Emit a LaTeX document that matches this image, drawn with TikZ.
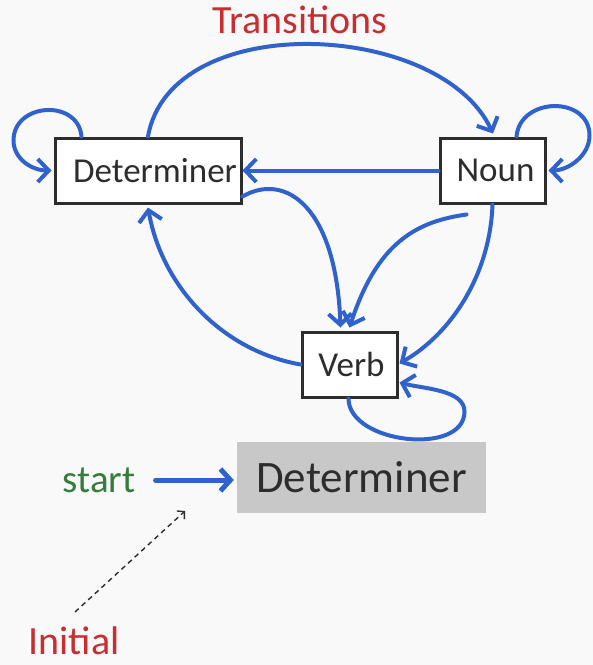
\documentclass[tikz,border=0pt]{standalone}
\usepackage{fontspec}
\setmainfont{Carlito}
\usetikzlibrary{arrows.meta,calc}

\definecolor{edgeblue}{RGB}{47,98,205}
\definecolor{titlered}{RGB}{200,45,50}
\definecolor{startgreen}{RGB}{52,125,58}
\definecolor{boxline}{RGB}{45,45,45}
\definecolor{initfill}{RGB}{200,200,200}
\definecolor{paper}{RGB}{249,249,249}

\tikzset{
  state/.style={draw=boxline, line width=3pt, fill=white, rectangle,
    minimum height=65pt, inner sep=0pt, text=boxline,
    font=\fontsize{35}{40}\selectfont},
  trans/.style={draw=edgeblue, line width=4pt, line cap=round,
    -{Straight Barb[length=11pt,width=23pt,line width=4pt]}},
  loopedge/.style={trans},
  redlabel/.style={text=titlered, font=\fontsize{40}{46}\selectfont, inner sep=0pt},
}

\begin{document}
\begin{tikzpicture}[x=1pt,y=1pt]
  % canvas
  \fill[paper] (0,0) rectangle (593,-665);
  \useasboundingbox (0,0) rectangle (593,-665);

  % title
  \node[redlabel, anchor=base] (title) at (300,-33) {Transitions};

  % states
  \node[state, minimum width=186pt] (det) at (148,-170.5) {\hspace*{14pt}Determiner};
  \node[state, minimum width=105pt] (noun) at (492.5,-170.5) {\hspace*{6pt}Noun};
  \node[state, minimum width=95pt] (verb) at (349.5,-364.5) {\hspace*{4pt}Verb};

  % initial state
  \node[fill=initfill, minimum width=249pt, minimum height=71pt, inner sep=0pt,
        text=boxline, font=\fontsize{45}{52}\selectfont] (init) at (361.5,-477.5) {Determiner};
  \node[anchor=base, text=startgreen, font=\fontsize{39}{45}\selectfont, inner sep=0pt]
        (start) at (99,-492) {start};
  \node[redlabel, anchor=base] (initial) at (74,-654) {Initial};

  % self loops
  \draw[loopedge] ([xshift=28pt]det.north west)
      to[out=95,in=90,out distance=38pt,in distance=38pt] ($(det.west)+(-40,30)$)
      to[out=-90,in=180,out distance=18pt,in distance=20pt] ([xshift=-2pt]det.west);
  \draw[loopedge] ([xshift=78pt]noun.north west)
      to[out=85,in=90,out distance=40pt,in distance=40pt] ($(noun.east)+(43,35)$)
      to[out=-90,in=0,out distance=20pt,in distance=20pt] ([xshift=2pt]noun.east);
  \draw[loopedge] ([xshift=-1pt]verb.south)
      to[out=-90,in=-90,out distance=45pt,in distance=45pt] ($(verb.south east)+(66,-13)$)
      to[out=90,in=-15,out distance=22pt,in distance=24pt] ([xshift=1pt,yshift=-18pt]verb.east);

  % transitions between states
  \draw[trans] ([xshift=0pt]det.north)
      to[out=80,in=115,out distance=130pt,in distance=125pt] ([xshift=0.5pt,yshift=3pt]noun.north);
  \draw[trans] (noun.west) -- (det.east);
  \draw[trans] ([yshift=8pt]det.south east)
      to[out=30,in=92,out distance=50pt,in distance=120pt] ([xshift=-9pt,yshift=3pt]verb.north);
  \draw[trans] ([xshift=28pt,yshift=-10pt]noun.south west)
      to[out=188,in=72,out distance=50pt,in distance=90pt] ([xshift=0pt,yshift=3pt]verb.north);
  \draw[trans] (noun.south)
      to[out=-92,in=30,out distance=70pt,in distance=60pt] ([xshift=1pt,yshift=1pt]verb.east);
  \draw[trans] (verb.west)
      to[out=170,in=-80,out distance=80pt,in distance=80pt] ([yshift=-3pt]det.south);

  % start arrow into the initial state
  \draw[draw=edgeblue, line width=5pt, line cap=round,
        -{Straight Barb[length=10pt,width=22pt,line width=5pt]}]
      ([xshift=20pt,yshift=12pt]start.base east) -- ([xshift=-3pt,yshift=-2.5pt]init.west);

  % pointer from the label
  \coordinate (dashtip) at (185,-511);
  \draw[dashed, line width=1.4pt, draw=boxline, dash pattern=on 5pt off 4pt,
        -{Straight Barb[length=5pt,width=11pt,line width=1.4pt]}]
      ([xshift=1pt,yshift=42pt]initial.base) -- (dashtip);
\end{tikzpicture}
\end{document}
